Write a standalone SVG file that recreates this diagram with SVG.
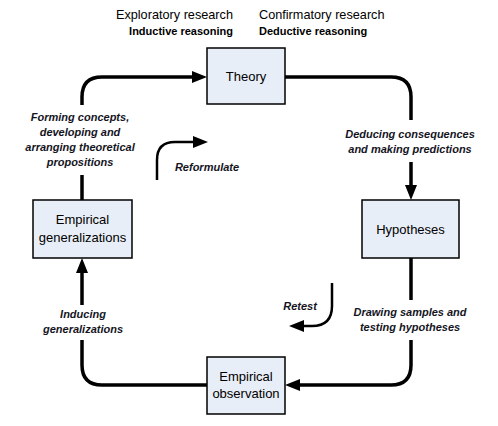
<svg xmlns="http://www.w3.org/2000/svg" width="498" height="426" viewBox="0 0 498 426">
<style>
.box{fill:#e8eef7;stroke:#000;stroke-width:1.5}
.bl{font-family:"Liberation Sans",Arial,sans-serif;font-size:13px;fill:#000;text-anchor:middle}
.lab{font-family:"Liberation Sans",Arial,sans-serif;font-size:11px;font-style:italic;font-weight:bold;fill:#14141e;text-anchor:middle}
.hd{font-family:"Liberation Sans",Arial,sans-serif;font-size:12.7px;fill:#000}
.hd2{font-family:"Liberation Sans",Arial,sans-serif;font-size:11px;font-weight:bold;fill:#000}
.c{fill:none;stroke:#000;stroke-width:3.5}
.c2{fill:none;stroke:#000;stroke-width:2.5}
</style>
<defs>
<marker id="ah" viewBox="0 0 15 12" refX="0" refY="6" markerWidth="15" markerHeight="12" markerUnits="userSpaceOnUse" orient="auto"><path d="M0,0 L15,6 L0,12 z" fill="#000"/></marker>
<marker id="ah2" viewBox="0 0 15 12" refX="0" refY="6" markerWidth="15" markerHeight="12" markerUnits="userSpaceOnUse" orient="auto"><path d="M0,0 L15,6 L0,12 z" fill="#000"/></marker>
</defs>
<g id="header">
<text class="hd" x="233" y="19" text-anchor="end">Exploratory research</text>
<text class="hd2" x="233" y="35" text-anchor="end">Inductive reasoning</text>
<text class="hd" x="259" y="19">Confirmatory research</text>
<text class="hd2" x="259" y="35">Deductive reasoning</text>
</g>
<g id="connectors">
<path class="c" d="M82 105 V97 Q82 77 102 77 H192" marker-end="url(#ah)"/>
<path class="c" d="M285 77 H391 Q411 77 411 97 V120"/>
<path class="c" d="M411 162 V185" marker-end="url(#ah)"/>
<path class="c" d="M411 258 V300"/>
<path class="c" d="M411 340 V365 Q411 385 391 385 H300" marker-end="url(#ah)"/>
<path class="c" d="M207 385 H102 Q82 385 82 365 V340"/>
<path class="c" d="M82 305 V273" marker-end="url(#ah)"/>
<path class="c" d="M82 200 V175"/>
<path class="c2" d="M157 180 V160 Q157 142 175 142 H193" marker-end="url(#ah2)"/>
<path class="c2" d="M332 283 V306 Q332 326 312 326 H304" marker-end="url(#ah2)"/>
<text class="lab" x="80" y="121">Forming concepts,</text>
<text class="lab" x="80" y="136">developing and</text>
<text class="lab" x="80" y="151">arranging theoretical</text>
<text class="lab" x="80" y="166">propositions</text>
<text class="lab" x="207" y="171">Reformulate</text>
<text class="lab" x="410" y="138">Deducing consequences</text>
<text class="lab" x="410" y="153">and making predictions</text>
<text class="lab" x="410" y="316">Drawing samples and</text>
<text class="lab" x="410" y="331">testing hypotheses</text>
<text class="lab" x="300" y="310">Retest</text>
<text class="lab" x="83" y="318">Inducing</text>
<text class="lab" x="83" y="333">generalizations</text>
</g>
<g id="theory">
<rect class="box" x="207" y="48" width="78" height="56"/>
<text class="bl" x="246" y="81">Theory</text>
</g>
<g id="hypotheses">
<rect class="box" x="362" y="200" width="97" height="58"/>
<text class="bl" x="410.5" y="234">Hypotheses</text>
</g>
<g id="observation">
<rect class="box" x="207" y="357" width="78" height="57"/>
<text class="bl" x="246" y="381">Empirical</text>
<text class="bl" x="246" y="398">observation</text>
</g>
<g id="generalizations">
<rect class="box" x="33" y="200" width="99" height="58"/>
<text class="bl" x="82.5" y="224">Empirical</text>
<text class="bl" x="82.5" y="242">generalizations</text>
</g>
</svg>
